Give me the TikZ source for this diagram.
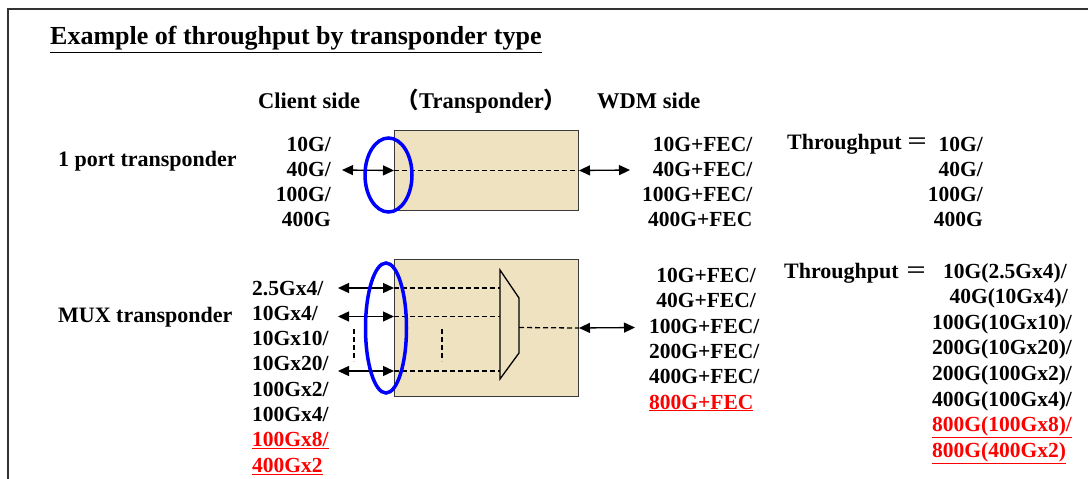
\documentclass[tikz,border=0pt]{standalone}
\usepackage{fontspec}
\setmainfont{Liberation Serif}
\newfontfamily\cjk{Noto Sans CJK JP}
\usetikzlibrary{arrows.meta,shapes.geometric}
\definecolor{boxfill}{HTML}{EEE2C0}
\definecolor{boxline}{HTML}{3A3A3A}
\definecolor{ringblue}{HTML}{0000FF}
\definecolor{hired}{HTML}{FF0000}
\begin{document}
\begin{tikzpicture}[x=1pt,y=-1pt,
  ttl/.style={inner sep=0pt,font=\bfseries\fontsize{26}{26}\selectfont},
  hdr/.style={inner sep=0pt,font=\bfseries\fontsize{22.5}{22.5}\selectfont},
  lab/.style={inner sep=0pt,font=\bfseries\fontsize{22}{22}\selectfont},
  val/.style={inner sep=0pt,font=\bfseries\fontsize{21.5}{21.5}\selectfont},
  cj/.style={inner sep=0pt,font=\cjk\fontsize{22}{22}\selectfont},
  tbox/.style={draw=boxline,fill=boxfill,line width=1pt,inner sep=0pt},
  darr/.style={{Triangle[length=11pt,width=10pt]}-{Triangle[length=11pt,width=10pt]},line width=1.3pt},
  dline/.style={dash pattern=on 5pt off 3pt,line width=1.3pt},
  ring/.style={draw=ringblue,line width=3.5pt,ellipse,inner sep=0pt},
  frameline/.style={draw=black!80,line width=1.5pt},
  muxline/.style={draw=black,line width=1.3pt}]
\useasboundingbox (0,0) rectangle (1088,479);
% frame
\coordinate (fc) at (8,9);
\coordinate (fr) at (1088,9);
\coordinate (fb) at (8,479);
\draw[frameline] (fr) -- (fc) -- (fb);
% title and headers
\node[ttl,anchor=base west] (title) at (50,45) {\underline{Example of throughput by transponder type}};
\node[hdr,anchor=base west] (client) at (258,108) {Client side};
\node[hdr,anchor=base] (trans) at (481.5,108) {{\cjk （}Transponder{\cjk ）}};
\node[hdr,anchor=base west] (wdm) at (597,108) {WDM side};
% row labels
\node[lab,anchor=base west] (lab1) at (58,166) {1 port transponder};
\node[lab,anchor=base west] (lab2) at (58,322) {MUX transponder};
% ---------- 1 port transponder ----------
\node[tbox,minimum width=184pt,minimum height=80pt,anchor=north west] (box1) at (394,130) {};
\node[val,anchor=base east] (c11) at (331,151.5) {10G/};
\node[val,anchor=base east] (c12) at (331,176.5) {40G/};
\node[val,anchor=base east] (c13) at (331,201.5) {100G/};
\node[val,anchor=base east] (c14) at (331,226.5) {400G};
\coordinate (a1l) at (342,170);
\coordinate (a1r) at (630,170);
\draw[darr] (a1l) -- (box1.west);
\draw[dline] (box1.west) -- (box1.east);
\draw[darr] (box1.east) -- (a1r);
\node[ring,minimum width=47pt,minimum height=74pt] (ring1) at (388.5,175) {};
\node[val,anchor=base east] (w11) at (752.5,151.5) {10G+FEC/};
\node[val,anchor=base east] (w12) at (752.5,176.5) {40G+FEC/};
\node[val,anchor=base east] (w13) at (752.5,201.5) {100G+FEC/};
\node[val,anchor=base east] (w14) at (752.5,226.5) {400G+FEC};
\node[lab,anchor=base west] (tp1) at (787,149.5) {Throughput};
\node[cj,anchor=base] (eq1) at (917,149.5) {＝};
\node[val,anchor=base east] (t11) at (983,151.5) {10G/};
\node[val,anchor=base east] (t12) at (983,176.5) {40G/};
\node[val,anchor=base east] (t13) at (983,201.5) {100G/};
\node[val,anchor=base east] (t14) at (983,226.5) {400G};
% ---------- MUX transponder ----------
\node[tbox,minimum width=184pt,minimum height=137pt,anchor=north west] (box2) at (394,259) {};
\node[val,anchor=base west] (c21) at (252,295) {2.5Gx4/};
\node[val,anchor=base west] (c22) at (252,320.3) {10Gx4/};
\node[val,anchor=base west] (c23) at (252,345.6) {10Gx10/};
\node[val,anchor=base west] (c24) at (252,370.9) {10Gx20/};
\node[val,anchor=base west] (c25) at (252,396.2) {100Gx2/};
\node[val,anchor=base west] (c26) at (252,421.5) {100Gx4/};
\node[val,anchor=base west] (c27) at (252,446.8) {\textcolor{hired}{\underline{100Gx8/}}};
\node[val,anchor=base west] (c28) at (252,472.1) {\textcolor{hired}{\underline{400Gx2}}};
% mux shape
\coordinate (m1) at (500,270);
\coordinate (m2) at (519,298);
\coordinate (m3) at (519,353);
\coordinate (m4) at (500,379);
\coordinate (mo) at (519,327.5);
\draw[muxline] (m1) -- (m2) -- (m3) -- (m4) -- cycle;
% client arrows
\coordinate (p1) at (338,288);
\coordinate (p2) at (338,316.5);
\coordinate (p3) at (338,371);
\foreach \p in {p1,p2,p3}{
  \draw[darr] (\p) -- (box2.west |- \p);
  \draw[dline] (box2.west |- \p) -- (m1 |- \p);
}
\coordinate (v1t) at (354,329);
\coordinate (v1b) at (354,361);
\coordinate (v2t) at (442,329);
\coordinate (v2b) at (442,361);
\draw[dline] (v1t) -- (v1b);
\draw[dline] (v2t) -- (v2b);
\draw[dline] (mo) -- (box2.east);
\coordinate (a2r) at (635,327.5);
\draw[darr] (box2.east) -- (a2r);
\node[ring,minimum width=41pt,minimum height=130pt] (ring2) at (386,328) {};
% WDM side MUX
\node[val,anchor=base east] (w21) at (756,282) {10G+FEC/};
\node[val,anchor=base east] (w22) at (756,307.5) {40G+FEC/};
\node[val,anchor=base west] (w23) at (649,333) {100G+FEC/};
\node[val,anchor=base west] (w24) at (649,358.3) {200G+FEC/};
\node[val,anchor=base west] (w25) at (649,383.6) {400G+FEC/};
\node[val,anchor=base west] (w26) at (649,409) {\textcolor{hired}{\underline{800G+FEC}}};
% throughput MUX
\node[lab,anchor=base west] (tp2) at (784,278) {Throughput};
\node[cj,anchor=base] (eq2) at (916,278) {＝};
\node[val,anchor=base east] (t21) at (1067,278) {10G(2.5Gx4)/};
\node[val,anchor=base east] (t22) at (1068,303.6) {40G(10Gx4)/};
\node[val,anchor=base west] (t23) at (932,329.2) {100G(10Gx10)/};
\node[val,anchor=base west] (t24) at (932,354.8) {200G(10Gx20)/};
\node[val,anchor=base west] (t25) at (932,380.4) {200G(100Gx2)/};
\node[val,anchor=base west] (t26) at (932,406) {400G(100Gx4)/};
\node[val,anchor=base west] (t27) at (932,431.6) {\textcolor{hired}{\underline{800G(100Gx8)/}}};
\node[val,anchor=base west] (t28) at (932,457.2) {\textcolor{hired}{\underline{800G(400Gx2)}}};
\end{tikzpicture}
\end{document}
